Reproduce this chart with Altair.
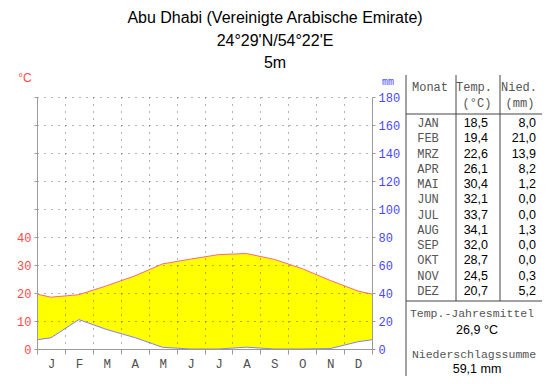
import altair as alt
import pandas as pd

# ---------------- data ----------------
months = ["JAN", "FEB", "MRZ", "APR", "MAI", "JUN", "JUL", "AUG", "SEP", "OKT", "NOV", "DEZ"]
month_letters = ["J", "F", "M", "A", "M", "J", "J", "A", "S", "O", "N", "D"]
temp = [18.5, 19.4, 22.6, 26.1, 30.4, 32.1, 33.7, 34.1, 32.0, 28.7, 24.5, 20.7]
prec = [8.0, 21.0, 13.9, 8.2, 1.2, 0.0, 0.0, 1.3, 0.0, 0.0, 0.3, 5.2]
title_lines = ["Abu Dhabi (Vereinigte Arabische Emirate)", "24°29'N/54°22'E", "5m"]
temp_mean_label = "Temp.-Jahresmittel"
temp_mean = "26,9 °C"
prec_sum_label = "Niederschlagssumme"
prec_sum = "59,1 mm"

# ---------------- derived tables ----------------
t_edge = (temp[0] + temp[-1]) / 2
p_edge = (prec[0] + prec[-1]) / 2
curve = pd.DataFrame({
    "x": [0.0] + [i + 0.5 for i in range(12)] + [12.0],
    "t": [t_edge] + temp + [t_edge],
    "p": [p_edge] + prec + [p_edge],
})
curve["ph"] = curve["p"] / 2

fmt = lambda v: f"{v:.1f}".replace(".", ",")
table = pd.DataFrame({"month": months, "ts": [fmt(v) for v in temp], "ps": [fmt(v) for v in prec]})
titles = pd.DataFrame({"line": title_lines, "i": list(range(len(title_lines)))})

MONO = "Liberation Mono"
SANS = "Liberation Sans"
RED = "#FF4848"
BLUE = "#4848FF"
AX = "#9a9a9a"
GRID = "#666666"

W, H = 335, 252

letters_js = "[" + ",".join(f"'{m}'" for m in month_letters) + "]"
x_vals = [i * 0.5 for i in range(25)]

x_axis = alt.Axis(
    values=x_vals, title=None, labelOverlap=False, labelFlush=False,
    labelExpr=f"datum.value % 1 != 0 ? {letters_js}[floor(datum.value)] : ''",
    labelFont=MONO, labelFontSize=12.5, labelColor="#505050", labelPadding=3,
    tickSize=5, tickColor=AX, domainColor=AX,
    tickOpacity={"condition": {"test": "datum.value % 1 == 0", "value": 1}, "value": 0},
    grid=True, gridDash=[1, 6], gridColor=GRID,
    gridOpacity={"condition": {"test": "datum.value % 1 == 0 && datum.value > 0 && datum.value < 12", "value": 1}, "value": 0},
    zindex=1,
)
x_scale = alt.Scale(domain=[0, 12], nice=False, zero=False)
x_enc = alt.X("x:Q", scale=x_scale, axis=x_axis)

temp_scale = alt.Scale(domain=[0, 90], nice=False, zero=True)

area = alt.Chart(curve).mark_area(color="#FFFF00", interpolate="linear", opacity=1).encode(
    x=x_enc,
    y=alt.Y("t:Q", scale=temp_scale, axis=alt.Axis(
        values=list(range(0, 100, 10)), title=None, orient="left",
        labelExpr="datum.value <= 40 ? datum.label : ''",
        labelFont=MONO, labelFontSize=12, labelColor=RED, labelPadding=3,
        tickSize=3, tickColor=AX, domainColor=AX,
        grid=True, gridDash=[1, 6], gridColor=GRID, zindex=1)),
    y2="ph:Q",
)

t_line = alt.Chart(curve).mark_line(color="#FF6A6A", strokeWidth=1, interpolate="linear").encode(
    x=x_enc,
    y=alt.Y("t:Q", scale=temp_scale, axis=None),
)

p_line = alt.Chart(curve).mark_line(color="#8080FF", strokeWidth=1, interpolate="linear").encode(
    x=x_enc,
    y=alt.Y("p:Q", scale=alt.Scale(domain=[0, 180], nice=False), axis=alt.Axis(
        orient="right", values=list(range(0, 200, 20)), title=None,
        labelFont=MONO, labelFontSize=12, labelColor=BLUE, labelPadding=3,
        tickSize=3, tickColor=AX, domainColor=AX, grid=False)),
)

# ---------------- titles & unit labels ----------------
title_txt = alt.Chart(titles).mark_text(font=SANS, fontSize=16, color="#000", baseline="middle").encode(
    x=alt.value(238),
    y=alt.Y("i:O", scale=alt.Scale(type="point", range=[-79, -34], padding=0), axis=None),
    text="line:N",
)

one = alt.Data(values=[{}])
unit_c = alt.Chart(one).mark_text(text="°C", font=SANS, fontSize=12, color=RED, baseline="middle").encode(
    x=alt.value(-12), y=alt.value(-19))
unit_mm = alt.Chart(one).mark_text(text="mm", font=MONO, fontSize=10, color=BLUE, baseline="middle").encode(
    x=alt.value(351), y=alt.value(-15))

# ---------------- table ----------------
row_y = alt.Y("month:N", sort=months, scale=alt.Scale(type="point", range=[26, 194], padding=0), axis=None)
col_m = alt.Chart(table).mark_text(font=MONO, fontSize=12, color="#555", align="center", baseline="middle").encode(
    x=alt.value(391), y=row_y, text="month:N")
col_t = alt.Chart(table).mark_text(font=SANS, fontSize=12.5, color="#000", align="right", baseline="middle").encode(
    x=alt.value(451), y=row_y, text="ts:N")
col_p = alt.Chart(table).mark_text(font=SANS, fontSize=12.5, color="#000", align="right", baseline="middle").encode(
    x=alt.value(499), y=row_y, text="ps:N")

def txt(s, x, y, font=MONO, size=12, color="#555", align="center"):
    return alt.Chart(one).mark_text(text=s, font=font, fontSize=size, color=color, align=align, baseline="middle").encode(
        x=alt.value(x), y=alt.value(y))

headers = [
    txt("Monat", 393, -10), txt("Temp.", 437, -10), txt("(°C)", 440, 6),
    txt("Nied.", 482, -10), txt("(mm)", 483, 6),
    txt(temp_mean_label, 435, 217, size=11.5), txt(temp_mean, 440, 233, font=SANS, size=12.5, color="#000"),
    txt(prec_sum_label, 437, 258, size=11.5), txt(prec_sum, 440, 272, font=SANS, size=12.5, color="#000"),
]

def rule(x1, x2, y1, y2):
    return alt.Chart(one).mark_rule(color="#444", strokeWidth=1).encode(
        x=alt.value(x1), x2=alt.value(x2), y=alt.value(y1), y2=alt.value(y2))

lines = [
    rule(369, 369, -22, 279),
    rule(419, 419, -22, 204),
    rule(463, 463, -22, 204),
    rule(369, 505, 17, 17),
    rule(369, 505, 204, 204),
]

chart = alt.layer(
    area, t_line, p_line, title_txt, unit_c, unit_mm, col_m, col_t, col_p, *headers, *lines
).resolve_scale(y="independent").properties(
    width=W, height=H,
    autosize=alt.AutoSizeParams(type="none"),
    padding={"left": 29, "top": 89, "right": 170, "bottom": 27},
    background="white",
).configure_view(stroke=None)

chart.save("out.html", embed_options={"renderer": "svg", "actions": False})
